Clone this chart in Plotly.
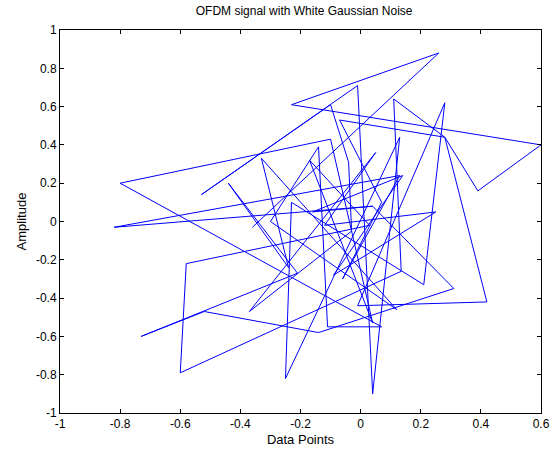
import plotly.graph_objects as go

# In-phase (x) and quadrature (y) values of the noisy OFDM samples
x_vals = [-0.36, 0.26, -0.23, 0.60, 0.39, 0.28, 0.11, 0.135, -0.60, -0.58,
          0.03, -0.17, 0.04, -0.10, -0.80, 0.07, -0.11, -0.14, -0.30, 0.12,
          -0.33, -0.24, -0.44, -0.21, -0.73, -0.52, -0.14, 0.31, 0.04, -0.82,
          0.13, -0.06, 0.07, -0.07, 0.28, 0.42, -0.01, 0.28, 0.21, -0.23,
          -0.25, 0.13, 0.04, -0.01, -0.53, -0.10, -0.04, -0.03, -0.37, 0.05,
          -0.12, 0.25, -0.09, 0.14, -0.16, 0.04]
y_vals = [-0.03, 0.88, 0.61, 0.40, 0.16, 0.44, 0.64, -0.26, -0.79, -0.22,
          -0.02, 0.32, -0.53, 0.43, 0.20, -0.55, -0.55, 0.39, 0.00, -0.46,
          0.33, -0.24, 0.20, -0.27, -0.60, -0.47, -0.58, -0.35, 0.08, -0.03,
          0.24, -0.30, 0.10, 0.53, 0.44, -0.42, -0.44, 0.62, -0.33, 0.10,
          -0.82, 0.44, -0.90, 0.71, 0.14, 0.61, 0.31, -0.05, -0.47, 0.36,
          -0.02, 0.05, -0.28, 0.24, 0.05, 0.08]

x_ticks = [-1, -0.8, -0.6, -0.4, -0.2, 0, 0.2, 0.4, 0.6]
y_ticks = [-1, -0.8, -0.6, -0.4, -0.2, 0, 0.2, 0.4, 0.6, 0.8, 1]

font_name = "Arial, Liberation Sans"

fig = go.Figure()
fig.add_trace(go.Scatter(x=x_vals, y=y_vals, mode="lines",
                         line=dict(color="#0000ff", width=1), hoverinfo="skip"))

axis_common = dict(showgrid=False, zeroline=False, showline=True, mirror="ticks",
                   linecolor="black", linewidth=1, ticks="inside", ticklen=4,
                   tickcolor="black", tickfont=dict(family=font_name, size=12, color="black"))
fig.update_xaxes(range=[-1, 0.6], tickvals=x_ticks, ticktext=[f"{v:g}" for v in x_ticks],
                 ticklabeloverflow="allow",
                 title=dict(text="Data Points", font=dict(family=font_name, size=13, color="black"), standoff=4),
                 **axis_common)
fig.update_yaxes(range=[-1, 1], tickvals=y_ticks, ticktext=[f"{v:g}" for v in y_ticks],
                 title=dict(text="Amplitude", font=dict(family=font_name, size=13, color="black"), standoff=6),
                 **axis_common)
fig.update_layout(
    width=558, height=453,
    margin=dict(l=60, r=8, t=30, b=40),
    plot_bgcolor="white", paper_bgcolor="white",
    showlegend=False,
    title=dict(text="OFDM signal with White Gaussian Noise", x=0.545, xanchor="center", y=0.985, yanchor="top",
               font=dict(family=font_name, size=12, color="black")),
)
fig.write_html("out.html")
